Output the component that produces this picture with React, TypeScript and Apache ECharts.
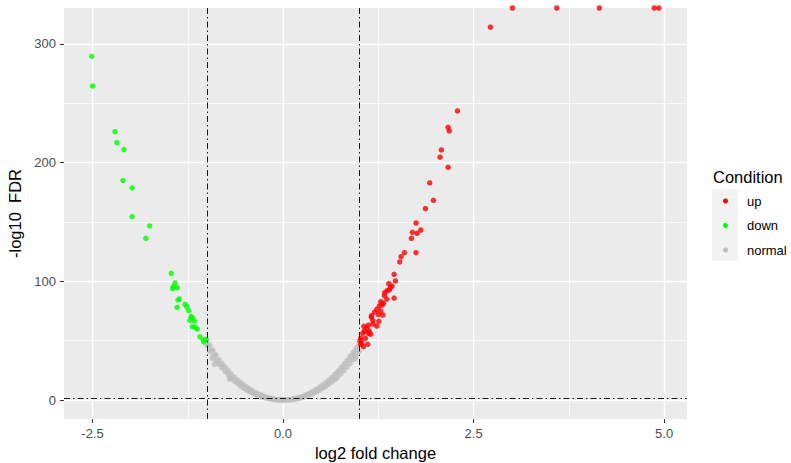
import React, { useEffect, useRef } from "react";
import * as echarts from "echarts";

// -log10(FDR) = Inf values are drawn at the top edge of the panel (as ggplot does)
const INF_CAP = 330.2;

const xTicks = [-2.5, 0, 2.5, 5];
const xMinor = [-1.25, 1.25, 3.75];
const yTicks = [0, 100, 200, 300];
const yMinor = [50, 150, 250];

const fcCut = [-1, 1];
const fdrCut = 1.3; // -log10(0.05)

const upPoints: number[][] = [
  [3.01, INF_CAP], [3.59, INF_CAP], [4.15, INF_CAP], [4.87, INF_CAP], [4.93, INF_CAP],
  [2.72, 314],
  [2.288, 243.5], [2.165, 229.7], [2.18, 226.6], [2.077, 210.6], [2.06, 204.5], [2.165, 196],
  [1.925, 182.8], [1.973, 168.2], [1.868, 161.2], [1.745, 149.1], [1.807, 143.2], [1.697, 141.3],
  [1.759, 140.4], [1.684, 136.2], [1.592, 124.1], [1.745, 124.1], [1.549, 120.7], [1.531, 116.3],
  [1.457, 105.9], [1.474, 100.3], [1.387, 98], [1.43, 96], [1.408, 94.6], [1.365, 92.1],
  [1.335, 90.4], [1.395, 92.7], [1.457, 85.9], [1.282, 82.8], [1.317, 81.5], [1.264, 79.2],
  [1.23, 76.4], [1.308, 71.6], [1.159, 69.7], [1.177, 66.8], [1.256, 66.3], [1.23, 62.3],
  [1.098, 60.4], [1.067, 58.1], [1.046, 56.2], [1.12, 56.2], [1.15, 55.4], [1.02, 52.2],
  [1.01, 50], [1.033, 48.3], [1.111, 46.9], [1.054, 44.9], [1.08, 52], [1.13, 58],
  [1.02, 47], [1.06, 62], [1.18, 64], [1.25, 72], [1.28, 75], [1.33, 88], [1.36, 85],
  [1.16, 71], [1.2, 74], [1.3, 80], [1.12, 63],
];

const downPoints: number[][] = [
  [-2.51, 289.5], [-2.5, 264.5], [-2.205, 226], [-2.18, 216.8], [-2.087, 210.9], [-2.1, 184.8],
  [-1.98, 178.6], [-1.98, 154.4], [-1.75, 146.6], [-1.8, 136.2], [-1.466, 106.7], [-1.417, 98.6],
  [-1.44, 95.5], [-1.387, 94.6], [-1.45, 93.8], [-1.36, 85.1], [-1.378, 84.2], [-1.39, 78.1],
  [-1.286, 80.6], [-1.264, 78.6], [-1.238, 75.2], [-1.207, 70.2], [-1.19, 69.3], [-1.224, 67.1],
  [-1.164, 66.6], [-1.19, 61.8], [-1.155, 61.2], [-1.125, 59.8], [-1.09, 53.1], [-1.046, 50.5],
  [-1.01, 51.1], [-1.04, 48.9],
];

const normalPoints: number[][] = [
  [-1.0, 50], [-0.96, 46], [-0.92, 42], [-0.88, 38], [-0.84, 34], [-0.8, 31], [-0.76, 28],
  [-0.72, 25], [-0.68, 22], [-0.64, 19.5], [-0.6, 17], [-0.56, 15], [-0.52, 13], [-0.48, 11],
  [-0.44, 9.3], [-0.4, 7.8], [-0.36, 6.4], [-0.32, 5.1], [-0.28, 4], [-0.24, 3], [-0.2, 2.1],
  [-0.16, 1.4], [-0.12, 0.8], [-0.08, 0.4], [-0.04, 0.15], [0, 0.05], [0.04, 0.15], [0.08, 0.4],
  [0.12, 0.8], [0.16, 1.3], [0.2, 2], [0.24, 2.9], [0.28, 3.9], [0.32, 5], [0.36, 6.2],
  [0.4, 7.6], [0.44, 9.1], [0.48, 10.8], [0.52, 12.7], [0.56, 14.7], [0.6, 16.8], [0.64, 19.2],
  [0.68, 21.7], [0.72, 24.4], [0.76, 27.2], [0.8, 30.2], [0.84, 33.4], [0.88, 36.8],
  [0.92, 40.3], [0.96, 44], [1.0, 47.5],
  [-1.0, 46], [-0.96, 41], [-0.92, 37], [-0.88, 33], [-0.84, 30], [-0.8, 27], [-0.76, 24],
  [-0.72, 21], [-0.68, 18.5], [-0.64, 16], [-0.6, 14], [-0.56, 12], [-0.52, 10], [-0.48, 8.5],
  [-0.44, 7], [-0.4, 5.8], [-0.36, 4.6], [-0.32, 3.6], [-0.28, 2.7], [-0.24, 1.9], [-0.2, 1.3],
  [-0.16, 0.8], [-0.12, 0.4], [-0.08, 0.2], [-0.04, 0.05], [0, 0], [0.04, 0.05], [0.08, 0.2],
  [0.12, 0.4], [0.16, 0.8], [0.2, 1.3], [0.24, 1.9], [0.28, 2.6], [0.32, 3.5], [0.36, 4.5],
  [0.4, 5.6], [0.44, 6.8], [0.48, 8.2], [0.52, 9.7], [0.56, 11.4], [0.6, 13.2], [0.64, 15.2],
  [0.68, 17.4], [0.72, 19.7], [0.76, 22.2], [0.8, 24.8], [0.84, 27.7], [0.88, 30.8],
  [0.92, 34], [0.96, 37.5], [1.0, 41],
  [-0.98, 46], [-0.94, 41.5], [-0.9, 37.5], [-0.86, 33.5], [-0.82, 30], [-0.78, 27.3],
  [-0.74, 24.2], [-0.7, 21.3], [-0.66, 18.8], [-0.62, 16.3], [-0.58, 14.2], [-0.54, 12.2],
  [-0.5, 10.3], [-0.46, 8.6], [-0.42, 7.1], [-0.38, 5.8], [-0.34, 4.6], [-0.3, 3.6],
  [-0.26, 2.7], [-0.22, 1.9], [-0.18, 1.3], [-0.14, 0.8], [-0.1, 0.4], [-0.06, 0.2],
  [-0.02, 0.05], [0.02, 0.05], [0.06, 0.2], [0.1, 0.4], [0.14, 0.8], [0.18, 1.3], [0.22, 1.9],
  [0.26, 2.7], [0.3, 3.6], [0.34, 4.6], [0.38, 5.8], [0.42, 7.1], [0.46, 8.6], [0.5, 10.3],
  [0.54, 12.2], [0.58, 14.2], [0.62, 16.3], [0.66, 18.8], [0.7, 21.3], [0.74, 24.2],
  [0.78, 27.3], [0.82, 30.5], [0.86, 33.8], [0.9, 37.2], [0.94, 40.8], [0.98, 44.5],
  [-0.93, 35], [-0.9, 30], [0.95, 35], [0.92, 38], [-0.7, 17.5], [0.7, 18],
];

const legendItems = ["up", "down", "normal"];
const legendColors = ["#FF0000", "#00FF00", "#BEBEBE"];

const FONT = "'Liberation Sans', Arial, sans-serif";

export default function App() {
  const ref = useRef<HTMLDivElement>(null);

  useEffect(() => {
    document.body.style.margin = "0";
    if (!ref.current) return;
    const chart = echarts.init(ref.current, null, { renderer: "svg" });

    const white = (w: number) => ({ color: "#FFFFFF", width: w, type: "solid" as const });

    const gridLines = [
      ...xTicks.map((v) => ({ xAxis: v, lineStyle: white(1.4) })),
      ...xMinor.map((v) => ({ xAxis: v, lineStyle: white(0.7) })),
      ...yTicks.map((v) => ({ yAxis: v, lineStyle: white(1.4) })),
      ...yMinor.map((v) => ({ yAxis: v, lineStyle: white(0.7) })),
    ];

    const cutStyle = { color: "#000000", width: 0.9, type: [6, 3, 1.5, 3] as any };

    const legendGraphics: any[] = [
      {
        type: "text",
        left: 713,
        top: 168,
        style: { text: "Condition", fontSize: 16.5, fontFamily: FONT, fill: "#000000" },
      },
      {
        type: "rect",
        shape: { x: 712, y: 189, width: 26, height: 72 },
        style: { fill: "#F2F2F2" },
      },
    ];
    const ys = [201, 225.5, 250];
    legendItems.forEach((name, i) => {
      legendGraphics.push({
        type: "circle",
        shape: { cx: 725.5, cy: ys[i], r: 2.5 },
        style: { fill: legendColors[i] },
      });
      legendGraphics.push({
        type: "text",
        x: 747,
        y: ys[i],
        style: {
          text: name,
          fontSize: 13,
          fontFamily: FONT,
          fill: "#000000",
          verticalAlign: "middle",
          align: "left",
        },
      });
    });

    chart.setOption({
      animation: false,
      textStyle: { fontFamily: FONT },
      grid: {
        left: 64,
        top: 8,
        width: 623,
        height: 411,
        show: true,
        backgroundColor: "#EBEBEB",
        borderWidth: 0,
        containLabel: false,
        outerBoundsMode: "none",
      },
      xAxis: {
        type: "value",
        min: -2.874,
        max: 5.3,
        name: "log2 fold change",
        nameLocation: "middle",
        nameGap: 21,
        nameTextStyle: { fontSize: 16.5, color: "#000000", fontFamily: FONT },
        axisLine: { show: false, onZero: false },
        splitLine: { show: false },
        axisTick: {
          show: true,
          customValues: xTicks,
          length: 4,
          lineStyle: { color: "#333333", width: 1 },
        },
        axisLabel: {
          customValues: xTicks,
          formatter: (v: number) => v.toFixed(1),
          color: "#4D4D4D",
          fontSize: 13,
          margin: 8,
          fontFamily: FONT,
        },
      },
      yAxis: {
        type: "value",
        min: -16,
        max: INF_CAP,
        name: "-log10  FDR",
        nameLocation: "middle",
        nameGap: 30,
        nameRotate: 90,
        nameTextStyle: { fontSize: 16.5, color: "#000000", fontFamily: FONT },
        axisLine: { show: false, onZero: false },
        splitLine: { show: false },
        axisTick: {
          show: true,
          customValues: yTicks,
          length: 4,
          lineStyle: { color: "#333333", width: 1 },
        },
        axisLabel: {
          customValues: yTicks,
          formatter: (v: number) => String(Math.round(v)),
          color: "#4D4D4D",
          fontSize: 13,
          margin: 8,
          fontFamily: FONT,
        },
      },
      series: [
        {
          type: "scatter",
          name: "grid",
          data: [],
          silent: true,
          z: 1,
          markLine: {
            silent: true,
            z: 1,
            symbol: ["none", "none"],
            label: { show: false },
            data: gridLines,
          },
        },
        {
          type: "scatter",
          name: "normal",
          data: normalPoints,
          symbolSize: 5.5,
          itemStyle: { color: legendColors[2] },
          z: 3,
        },
        {
          type: "scatter",
          name: "down",
          data: downPoints,
          symbolSize: 5.5,
          itemStyle: { color: legendColors[1] },
          z: 3,
        },
        {
          type: "scatter",
          name: "up",
          data: upPoints,
          symbolSize: 5.5,
          itemStyle: { color: legendColors[0] },
          z: 3,
        },
        {
          type: "scatter",
          name: "cutoffs",
          data: [],
          silent: true,
          z: 5,
          markLine: {
            silent: true,
            z: 10,
            symbol: ["none", "none"],
            label: { show: false },
            lineStyle: cutStyle,
            data: [
              ...fcCut.map((v) => ({ xAxis: v })),
              { yAxis: fdrCut },
            ],
          },
        },
      ],
      graphic: legendGraphics,
    });

    return () => chart.dispose();
  }, []);

  return <div ref={ref} style={{ width: 791, height: 463 }} />;
}
